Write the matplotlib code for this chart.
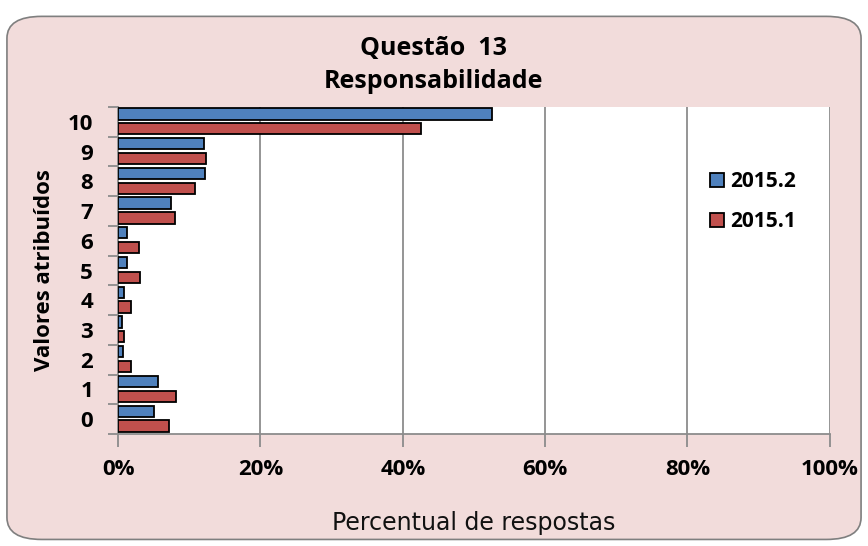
import matplotlib.pyplot as plt
from matplotlib.patches import FancyBboxPatch
from matplotlib.ticker import FuncFormatter

# valores (percentual de respostas)
valores = ['0', '1', '2', '3', '4', '5', '6', '7', '8', '9', '10']
sem_2015_2 = [5.1, 5.6, 0.7, 0.5, 0.9, 1.3, 1.2, 7.4, 12.2, 12.1, 52.5]
sem_2015_1 = [7.2, 8.1, 1.8, 0.8, 1.8, 3.1, 2.9, 8.0, 10.8, 12.3, 42.6]

azul = '#4F81BD'
vermelho = '#C0504D'
rosa = '#F2DCDB'
fonte = 'Open Sans'

fig = plt.figure(figsize=(8.68, 5.46), dpi=100)
fig.patch.set_facecolor('white')
fundo = FancyBboxPatch((0.008, 0.012), 0.984, 0.958, boxstyle='round,pad=0,rounding_size=0.04',
                       transform=fig.transFigure, facecolor=rosa, edgecolor='#7f7f7f',
                       linewidth=1.2, zorder=-5)
fig.patches.append(fundo)

ax = fig.add_axes([0.136, 0.205, 0.820, 0.599])
ax.set_zorder(2)
ax.set_facecolor('white')

y = list(range(len(valores)))
h = 0.38
ax.barh([i + 0.27 for i in y], sem_2015_2, height=h, color=azul, edgecolor='black',
        linewidth=1.3, label='2015.2', zorder=3)
ax.barh([i - 0.23 for i in y], sem_2015_1, height=h, color=vermelho, edgecolor='black',
        linewidth=1.3, label='2015.1', zorder=3)

ax.set_xlim(0, 100)
ax.set_ylim(-0.5, 10.5)
ax.set_xticks(range(0, 101, 20))
ax.xaxis.set_major_formatter(FuncFormatter(lambda v, p: f'{int(v)}%'))
ax.grid(axis='x', color='#8c8c8c', linewidth=1.3, zorder=1)

ax.set_yticks([i - 0.5 for i in range(12)], minor=False)
ax.set_yticklabels([])
ax.set_yticks(y, minor=True)
ax.set_yticklabels(valores, minor=True)
ax.tick_params(axis='y', which='major', length=7, width=1.3, color='#8c8c8c', direction='out')
ax.tick_params(axis='y', which='minor', length=0, pad=18, labelsize=16)
ax.tick_params(axis='x', length=9, width=1.3, color='#8c8c8c', direction='out', pad=9, labelsize=16)
for lab in ax.get_yticklabels(minor=True) + ax.get_xticklabels():
    lab.set_fontweight('bold')
    lab.set_family(fonte)

for s in ['top', 'right']:
    ax.spines[s].set_visible(False)
for s in ['left', 'bottom']:
    ax.spines[s].set_color('#8c8c8c')
    ax.spines[s].set_linewidth(1.3)

ax.set_ylabel('Valores atribuídos', fontsize=16, fontweight='bold', family=fonte, labelpad=9)
ax.set_xlabel('Percentual de respostas', fontsize=17, family='DejaVu Sans', labelpad=22,
              color='#111111')

fig.text(0.5, 0.911, 'Questão  13', ha='center', va='center', fontsize=18,
         fontweight='bold', family=fonte)
fig.text(0.5, 0.851, 'Responsabilidade', ha='center', va='center', fontsize=18,
         fontweight='bold', family=fonte)

leg = ax.legend(loc='center left', bbox_to_anchor=(0.806, 0.71), frameon=False,
                prop={'family': fonte, 'weight': 'bold', 'size': 15},
                handlelength=0.65, handleheight=0.65, handletextpad=0.3, labelspacing=0.9)

fig.savefig('out.png', dpi=100)
